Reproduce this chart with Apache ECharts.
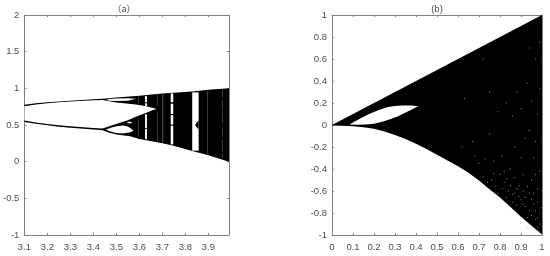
<!DOCTYPE html>
<html>
<head>
<meta charset="utf-8">
<style>
  html, body { margin: 0; padding: 0; background: #fff; }
  #chart { width: 550px; height: 256px; filter: blur(0.35px); }
</style>
<script src="https://cdn.jsdelivr.net/npm/echarts@6/dist/echarts.min.js"></script>
</head>
<body>
<div id="chart"></div>
<script>
// ---- panel (a): values ----
var aTop = [[3.1, 0.775], [3.15, 0.795], [3.2, 0.81], [3.25, 0.822], [3.3, 0.832], [3.4, 0.85], [3.44, 0.857], [3.5, 0.875], [3.6, 0.898], [3.7, 0.93], [3.83, 0.957], [3.9, 0.98], [3.99, 1.0]];
var aBottom = [[3.1, 0.542], [3.15, 0.517], [3.2, 0.495], [3.25, 0.477], [3.3, 0.462], [3.4, 0.438], [3.44, 0.428], [3.47, 0.395], [3.5, 0.37], [3.56, 0.345], [3.6, 0.31], [3.7, 0.25], [3.74, 0.225], [3.83, 0.145], [3.9, 0.088], [3.99, 0.0]];
// the big white area between the two branches
var aCentreHole = [[3.1, 0.757], [3.15, 0.78], [3.2, 0.797], [3.25, 0.81], [3.3, 0.82], [3.4, 0.836], [3.44, 0.84], [3.5, 0.808], [3.585, 0.78], [3.63, 0.755], [3.674, 0.722], [3.63, 0.667], [3.585, 0.611], [3.55, 0.565], [3.5, 0.512], [3.44, 0.452], [3.4, 0.458], [3.3, 0.482], [3.25, 0.496], [3.2, 0.513], [3.15, 0.535], [3.1, 0.56]];
// the thin windows inside the period doubling lobes
var aUpperLobe = [[3.455, 0.845], [3.47, 0.855], [3.5, 0.862], [3.55, 0.866], [3.585, 0.858], [3.55, 0.832], [3.5, 0.826], [3.47, 0.832]];
var aLowerLobe = [[3.455, 0.44], [3.48, 0.465], [3.5, 0.483], [3.53, 0.492], [3.55, 0.48], [3.565, 0.45], [3.575, 0.42], [3.56, 0.4], [3.53, 0.385], [3.5, 0.392], [3.47, 0.415]];
var aSmallLobe = [[3.545, 0.532], [3.555, 0.548], [3.57, 0.535], [3.56, 0.522]];
// periodic windows: x, width, low, high
var aWhiteGaps = [
  [3.629, 0.008, 0.305, 0.45], [3.629, 0.008, 0.46, 0.645], [3.629, 0.008, 0.76, 0.795], [3.629, 0.008, 0.81, 0.895],
  [3.742, 0.011, 0.235, 0.49], [3.742, 0.011, 0.505, 0.635], [3.742, 0.011, 0.65, 0.79], [3.742, 0.011, 0.81, 0.93],
  [3.844, 0.028, 0.15, 0.945]
];
var aGreyGaps = [
  [3.597, 0.003, 0.34, 0.58], [3.597, 0.003, 0.8, 0.885],
  [3.678, 0.003, 0.28, 0.68], [3.678, 0.003, 0.76, 0.92],
  [3.702, 0.004, 0.255, 0.92],
  [3.896, 0.003, 0.1, 0.97],
  [3.961, 0.003, 0.04, 0.11], [3.961, 0.003, 0.15, 0.3], [3.961, 0.003, 0.34, 0.47], [3.961, 0.003, 0.52, 0.66], [3.961, 0.003, 0.7, 0.84], [3.961, 0.003, 0.88, 0.98]
];
var aKnot = [[3.858, 0.44], [3.85, 0.47], [3.842, 0.5], [3.85, 0.535], [3.858, 0.56]];

// ---- panel (b) ----
var bTop = [[0, 0], [0.1, 0.1], [0.2, 0.2], [0.4, 0.4], [0.6, 0.6], [0.8, 0.8], [1, 1]];
var bBottom = [[0, -0.005], [0.05, -0.007], [0.1, -0.012], [0.15, -0.021], [0.2, -0.035], [0.25, -0.06], [0.3, -0.09], [0.35, -0.128], [0.4, -0.17], [0.45, -0.218], [0.5, -0.27], [0.55, -0.322], [0.6, -0.375], [0.65, -0.435], [0.7, -0.505], [0.75, -0.585], [0.8, -0.66], [0.85, -0.745], [0.9, -0.835], [0.95, -0.915], [1, -0.995]];
var bHole = [[0.083, 0.005], [0.13, 0.055], [0.171, 0.095], [0.22, 0.135], [0.267, 0.163], [0.3, 0.173], [0.33, 0.178], [0.38, 0.178], [0.41, 0.171], [0.38, 0.14], [0.346, 0.11], [0.315, 0.08], [0.283, 0.056], [0.24, 0.03], [0.2, 0.012], [0.16, 0.004], [0.12, 0.002]];
// lighter dots scattered in the chaotic band, lower right
var bSpecks = [[0.63, 0.24], [0.62, -0.2], [0.67, -0.15], [0.68, -0.28], [0.7, -0.35], [0.73, -0.31], [0.77, -0.33], [0.72, -0.47], [0.76, -0.5], [0.78, -0.56], [0.8, -0.45], [0.82, -0.52], [0.84, -0.6], [0.87, -0.62], [0.86, -0.7], [0.89, -0.55], [0.9, -0.68], [0.92, -0.74], [0.94, -0.62], [0.93, -0.84], [0.96, -0.72], [0.97, -0.86], [0.98, -0.93], [0.99, -0.8], [0.95, -0.5], [0.98, -0.58], [0.91, -0.45], [0.85, -0.4], [0.9, -0.3], [0.96, -0.3], [0.99, -0.42], [0.97, -0.15], [0.94, -0.05], [0.98, 0.1], [0.95, 0.22], [0.99, 0.33], [0.93, 0.38], [0.9, 0.15], [0.86, 0.08], [0.88, 0.3], [0.97, 0.6], [0.94, 0.7], [0.99, 0.75], [0.83, 0.2], [0.79, 0.12], [0.75, -0.08], [0.87, -0.2], [0.92, -0.12], [0.81, -0.28], [0.75, 0.3], [0.72, 0.6], [0.93, -0.93], [0.99, -0.97], [0.95, -0.82], [0.88, -0.73], [0.83, -0.66], [0.79, -0.62],
  [0.74, -0.52], [0.77, -0.44], [0.81, -0.58], [0.83, -0.49], [0.85, -0.55], [0.86, -0.63], [0.88, -0.58], [0.89, -0.65], [0.91, -0.6], [0.91, -0.72], [0.92, -0.66], [0.93, -0.56], [0.94, -0.78], [0.95, -0.68], [0.96, -0.62], [0.97, -0.78], [0.98, -0.7], [0.98, -0.84], [0.99, -0.9], [1, -0.6], [1, -0.75], [0.97, -0.45], [0.87, -0.48], [0.82, -0.42]];

var aXTicks = { min: 3.1, max: 3.99, interval: 0.1 };
var aYTicks = { min: -1, max: 2, interval: 0.5 };
var bXTicks = { min: 0, max: 1, interval: 0.1 };
var bYTicks = { min: -1, max: 1, interval: 0.2 };

var axisGrey = '#808080';
var labelGrey = '#4d4d4d';

function ringOf(top, bottom) {
  return top.concat(bottom.slice().reverse());
}
function gapPolys(gaps) {
  return gaps.map(function (g) {
    var l = g[0] - g[1] / 2, r = g[0] + g[1] / 2;
    return [[l, g[2]], [r, g[2]], [r, g[3]], [l, g[3]]];
  });
}
function polySeries(axisIdx, polys, color) {
  return {
    type: 'custom',
    coordinateSystem: 'cartesian2d',
    xAxisIndex: axisIdx,
    yAxisIndex: axisIdx,
    silent: true,
    data: polys.map(function (p) { return p[0]; }),
    renderItem: function (params, api) {
      var pts = polys[params.dataIndex].map(function (p) { return api.coord(p); });
      return { type: 'polygon', shape: { points: pts }, style: { fill: color } };
    }
  };
}
function valueAxis(ticks, gridIdx, pos, withLabels, fmt) {
  return {
    type: 'value',
    gridIndex: gridIdx,
    position: pos,
    min: ticks.min,
    max: ticks.max,
    interval: ticks.interval,
    splitLine: { show: false },
    axisLine: { onZero: false, lineStyle: { color: axisGrey, width: 1 } },
    axisTick: { inside: true, length: 2, lineStyle: { color: axisGrey, width: 1 } },
    axisLabel: {
      show: withLabels,
      color: labelGrey,
      fontFamily: 'Liberation Sans',
      fontSize: 9.5,
      margin: (pos === 'left' ? 5 : 7),
      formatter: fmt
    }
  };
}
// the 3.99 end of the axis carries no label
function aXLabel(v) { return v > 3.95 ? '' : v.toFixed(1); }

var chart = echarts.init(document.getElementById('chart'));
chart.setOption({
  animation: false,
  backgroundColor: '#fff',
  title: [
    { text: '（a）', left: 124, top: 4, padding: 0, textAlign: 'center', textStyle: { fontFamily: 'Noto Sans CJK SC', fontSize: 9, fontWeight: 'normal', color: labelGrey } },
    { text: '(b)', left: 437, top: 4, padding: 0, textAlign: 'center', textStyle: { fontFamily: 'Liberation Sans', fontSize: 9.5, fontWeight: 'normal', color: labelGrey } }
  ],
  grid: [
    { left: 19, top: 15, width: 210, height: 220 },
    { left: 332, top: 15, width: 210, height: 220 }
  ],
  xAxis: [
    valueAxis(aXTicks, 0, 'bottom', true, aXLabel),
    valueAxis(bXTicks, 1, 'bottom', true),
    valueAxis(aXTicks, 0, 'top', false),
    valueAxis(bXTicks, 1, 'top', false)
  ],
  yAxis: [
    valueAxis(aYTicks, 0, 'left', true),
    valueAxis(bYTicks, 1, 'left', true),
    valueAxis(aYTicks, 0, 'right', false),
    valueAxis(bYTicks, 1, 'right', false)
  ],
  series: [
    polySeries(0, [ringOf(aTop, aBottom)], '#000'),
    polySeries(0, [aCentreHole, aUpperLobe, aLowerLobe, aSmallLobe].concat(gapPolys(aWhiteGaps)), '#fff'),
    polySeries(0, gapPolys(aGreyGaps), '#5a5a5a'),
    polySeries(0, [aKnot], '#000'),
    polySeries(1, [ringOf(bTop, bBottom)], '#000'),
    polySeries(1, [bHole], '#fff'),
    {
      type: 'scatter',
      xAxisIndex: 1,
      yAxisIndex: 1,
      silent: true,
      symbol: 'rect',
      symbolSize: 1,
      itemStyle: { color: '#b0b0b0' },
      data: bSpecks
    }
  ]
});
</script>
</body>
</html>
